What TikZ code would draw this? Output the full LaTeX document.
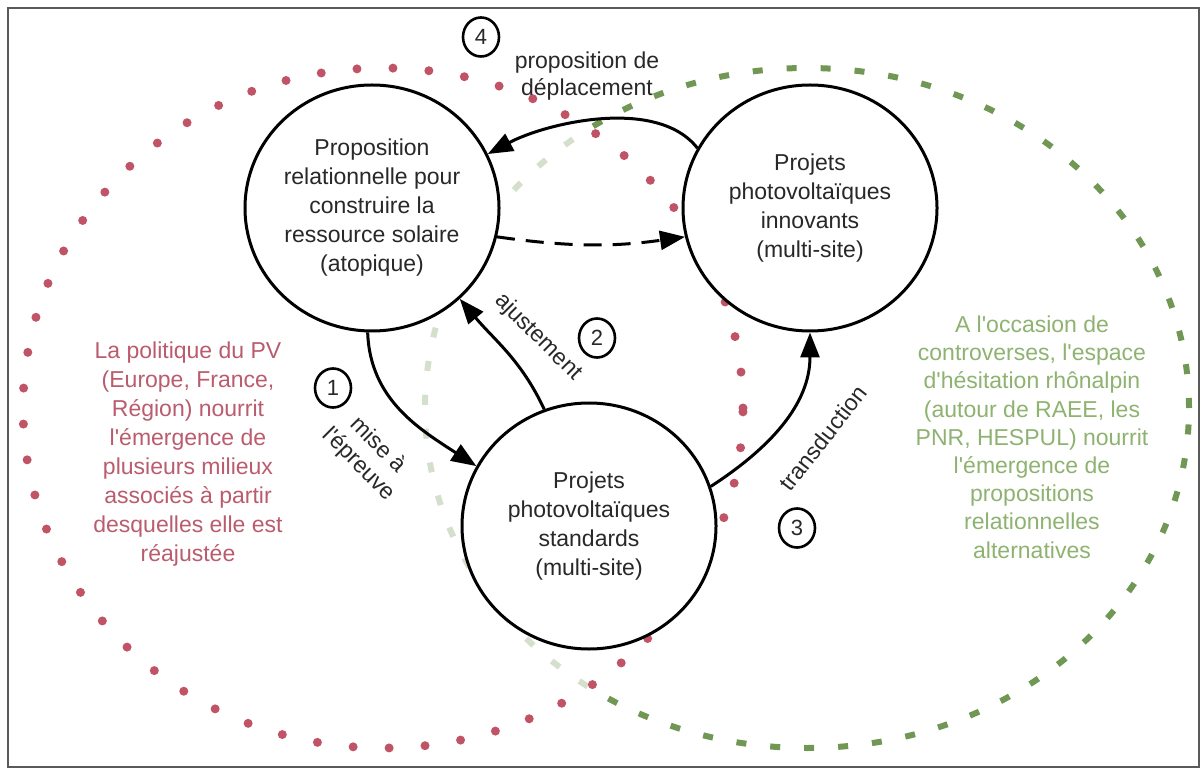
\documentclass[tikz,border=0pt]{standalone}
\usepackage{fontspec}
\setmainfont{Liberation Sans}[Ligatures=TeXOff]
\usepackage{tikz}
\usetikzlibrary{arrows.meta,positioning,shapes.geometric}
\definecolor{framegray}{RGB}{90,90,90}
\definecolor{inkgray}{RGB}{40,40,40}
\definecolor{dotred}{RGB}{192,84,102}
\definecolor{textred}{RGB}{186,92,110}
\definecolor{dashgreen}{RGB}{112,152,84}
\definecolor{textgreen}{RGB}{142,178,112}

\begin{document}
\begin{tikzpicture}[
  x=1pt,y=1pt,
  node distance=181pt,
  site/.style={ellipse,draw=black,line width=3pt,fill=white,inner sep=0pt,
               minimum width=254pt,minimum height=246pt,align=center,
               text=inkgray,font=\fontsize{23}{29}\selectfont},
  num/.style={ellipse,draw=black,line width=2.6pt,inner sep=0pt,
              minimum width=36pt,minimum height=39pt,text=inkgray,
              font=\fontsize{22}{22}\selectfont},
  tag/.style={align=center,text=inkgray,font=\fontsize{23}{27}\selectfont},
  side/.style={align=center,font=\fontsize{23}{29}\selectfont},
  arrow/.style={-{Triangle[length=25pt,width=19pt]},draw=black,line width=3pt}
]
\useasboundingbox (0,0) rectangle (1204,772);
\draw[framegray,line width=2pt] (8,5) rectangle (1199,764);
% the two milieux
\draw[dashgreen,line width=6pt,dash pattern=on 10pt off 24pt]
  (807,364) ellipse [x radius=382pt,y radius=340pt];
\draw[dotred,line width=9pt,line cap=round,dash pattern=on 0pt off 36pt,
      fill=white,fill opacity=0.7]
  (383,364) ellipse [x radius=360pt,y radius=340pt];
% sites
\node[site] (propo) at (372,564) {Proposition\\relationnelle pour\\construire la\\ressource solaire\\(atopique)};
\node[site,right=of propo] (innov) {Projets\\photovoltaïques\\innovants\\(multi-site)};
\node[site] (stand) at (589,246) {Projets\\photovoltaïques\\standards\\(multi-site)};
% links
\draw[arrow] (propo.-92) to[out=-88,in=147] (stand.152);
\draw[arrow] (stand.111) to[out=115,in=-50] (propo.-46);
\draw[arrow] (stand.18) to[out=33,in=-90] (innov.-90);
\draw[arrow] (innov.152) to[out=128,in=28,looseness=0.8] (propo.25);
\draw[arrow,dash pattern=on 18pt off 11pt] (propo.-13) to[out=-8,in=188] (innov.193);
% steps
\node[num] (n1) at (333,384) {1};
\node[num] (n2) at (597,434) {2};
\node[num] (n3) at (797,244) {3};
\node[num] (n4) at (481,735) {4};
\node[tag] (shift) at (587,696) {proposition de\\déplacement};
\node[tag,rotate=-45] (adjust) at (538,435) {ajustement};
\node[tag,rotate=-45] (trial) at (368,317) {mise à\\l'épreuve};
\node[tag,rotate=52] (transd) at (823,334) {transduction};
% milieux texts
\node[side,text=textred] (policy) at (188,318) {La politique du PV\\(Europe, France,\\Région) nourrit\\l'émergence de\\plusieurs milieux\\associés à partir\\desquelles elle est\\réajustée};
\node[side,text=textgreen,font=\fontsize{23}{28.2}\selectfont] (hesit) at (1032,335) {A l'occasion de\\controverses, l'espace\\d'hésitation rhônalpin\\(autour de RAEE, les\\PNR, HESPUL) nourrit\\l'émergence de\\propositions\\relationnelles\\alternatives};
\end{tikzpicture}
\end{document}
